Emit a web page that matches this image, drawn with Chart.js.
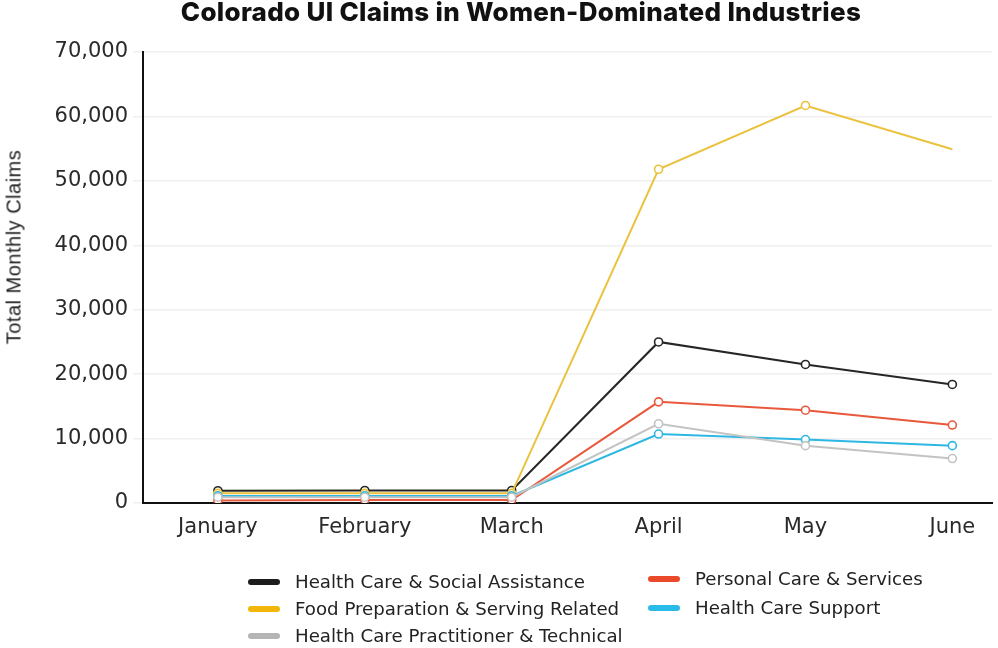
<!DOCTYPE html>
<html>
<head>
<meta charset="utf-8">
<script src="https://cdn.jsdelivr.net/npm/chart.js@4/dist/chart.umd.min.js"></script>
<style>
  html, body { margin: 0; padding: 0; background: #fff; overflow: hidden; }
  #wrap { position: relative; width: 998px; height: 648px; }
  #c { position: absolute; left: 0; top: 0; }
  #title { position: absolute; left: 0; width: 1042px; top: -4px; text-align: center;
    font-family: Inter, "Noto Sans", sans-serif; font-weight: 800; font-size: 26px; color: #111; letter-spacing: 0.3px; }
  #ytitle { position: absolute; left: 14px; top: 247px; transform: translate(-50%, -50%) rotate(-90deg);
    white-space: nowrap; font-family: "Liberation Sans", Arial, sans-serif; font-size: 20px; letter-spacing: 0.5px; color: #222; }
  .leg { position: absolute; display: flex; align-items: center; font-family: "DejaVu Sans", sans-serif; font-size: 18.2px; color: #222; white-space: nowrap; }
  .sw { width: 32px; height: 6px; border-radius: 3px; margin-right: 15px; }
</style>
</head>
<body>
<div id="wrap">
  <canvas id="c" width="998" height="648"></canvas>
  <div id="title"></div>
  <div id="ytitle"></div>
  <div id="legend"></div>
</div>
<script>
const chartTitle = "Colorado UI Claims in Women-Dominated Industries";
const yAxisTitle = "Total Monthly Claims";
const months = ["January", "February", "March", "April", "May", "June"];
const yTicks = [0, 10000, 20000, 30000, 40000, 50000, 60000, 70000];

const seriesNames = [
  "Health Care & Social Assistance",
  "Food Preparation & Serving Related",
  "Health Care Practitioner & Technical",
  "Personal Care & Services",
  "Health Care Support"
];
const healthSocial   = [1900, 1950, 1950, 25000, 21500, 18400];
const foodPrep       = [1500, 1500, 1500, 51800, 61700, 54900];
const practitioner   = [900, 900, 900, 12300, 8900, 6900];
const personalCare   = [400, 450, 450, 15700, 14400, 12100];
const careSupport    = [1100, 1100, 1100, 10700, 9850, 8900];

const lineColors = ["#262626", "#EBC23E", "#C3C3C3", "#E8583C", "#2DB7E2"];
const swatchColors = ["#1c1c1c", "#F2B50A", "#B5B5B5", "#EA4A2A", "#2BBBE8"];
const seriesData = [healthSocial, foodPrep, practitioner, personalCare, careSupport];

document.getElementById('title').textContent = chartTitle;
document.getElementById('ytitle').textContent = yAxisTitle;

// HTML legend in two columns
const legPos = [[248, 582], [248, 609], [248, 636], [648, 579], [648, 608]];
const legend = document.getElementById('legend');
seriesNames.forEach((n, i) => {
  const d = document.createElement('div');
  d.className = 'leg';
  d.style.left = legPos[i][0] + 'px';
  d.style.top = (legPos[i][1] - 11) + 'px';
  const s = document.createElement('div');
  s.className = 'sw';
  s.style.background = swatchColors[i];
  const t = document.createElement('span');
  t.textContent = n;
  d.appendChild(s); d.appendChild(t);
  legend.appendChild(d);
});

// draw order: smaller first so black on top of lows
const order = [2, 4, 3, 1, 0];
const datasets = order.map(i => ({
  label: seriesNames[i],
  data: seriesData[i].map((v, k) => ({ x: k, y: v })),
  borderColor: lineColors[i],
  backgroundColor: '#ffffff',
  borderWidth: 2,
  pointRadius: seriesData[i].map((v, k) => (i === 1 && k === 5) ? 0 : 4),
  pointBorderWidth: 1.6,
  pointBorderColor: lineColors[i],
  pointBackgroundColor: '#ffffff',
  tension: 0
}));

new Chart(document.getElementById('c'), {
  type: 'line',
  data: { datasets },
  options: {
    responsive: false,
    animation: false,
    layout: { padding: { left: 0, right: 6, top: 52, bottom: 0 } },
    plugins: { legend: { display: false }, title: { display: false }, tooltip: { enabled: false } },
    scales: {
      x: {
        type: 'linear',
        min: -0.51,
        max: 5.27,
        afterBuildTicks: s => { s.ticks = months.map((m, i) => ({ value: i })); },
        afterFit: s => { s.height = 145; },
        ticks: {
          callback: (v) => months[v],
          autoSkip: false, maxRotation: 0,
          padding: 12,
          color: '#2a2a2a',
          font: { family: 'DejaVu Sans', size: 21 }
        },
        grid: { display: false, drawTicks: false },
        border: { display: true, color: '#111', width: 2 }
      },
      y: {
        min: 0, max: 70000,
        afterBuildTicks: s => { s.ticks = yTicks.map(v => ({ value: v })); },
        afterFit: s => { s.width = 143; },
        ticks: {
          callback: v => v.toLocaleString('en-US'),
          padding: 5,
          color: '#2a2a2a',
          font: { family: 'DejaVu Sans', size: 21 }
        },
        grid: { color: '#efefef', lineWidth: 1.5, drawTicks: true, tickLength: 10 },
        border: { display: true, color: '#111', width: 2 }
      }
    }
  }
});
</script>
</body>
</html>
